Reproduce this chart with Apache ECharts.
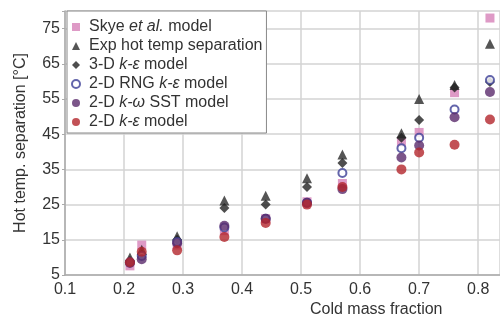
<!DOCTYPE html>
<html>
<head>
<meta charset="utf-8">
<script src="https://cdn.jsdelivr.net/npm/echarts@6/dist/echarts.min.js"></script>
<style>
  html, body { margin: 0; padding: 0; background: #fff; }
  #chart { width: 500px; height: 323px; }
</style>
</head>
<body>
<div id="chart"></div>
<script>
// cold mass fraction
const coldFraction = [0.21, 0.23, 0.29, 0.37, 0.44, 0.51, 0.57, 0.67, 0.70, 0.76, 0.82];

// hot temperature separation [°C]
const skyeModel = [7.6, 13.5, 13.5, 17.6, 21.0, 25.8, 31.0, 42.8, 45.5, 56.8, 78.0];
const expHotSep = [10.0, 12.2, 16.0, 26.2, 27.5, 32.5, 39.2, 45.3, 55.0, 59.0, 70.7];
const model3dKe = [9.0, 10.8, 15.0, 24.0, 25.0, 30.0, 36.8, 44.0, 49.0, 58.3, 59.8];
const model2dRng = [8.6, 10.4, 14.4, 18.5, 21.0, 25.5, 34.0, 41.0, 44.0, 52.0, 60.4];
const model2dSst = [8.4, 9.5, 14.0, 19.0, 21.0, 25.5, 29.4, 38.4, 41.8, 49.8, 57.0];
const model2dKe = [8.6, 11.6, 12.0, 15.8, 19.8, 25.0, 30.0, 35.0, 39.8, 42.0, 49.2];

const yTicks = [5, 15, 25, 35, 45, 55, 65, 75];

const font = 'Liberation Sans, Arial, sans-serif';

function pairs(ys) {
  return coldFraction.map((x, i) => [x, ys[i]]);
}

const chart = echarts.init(document.getElementById('chart'));

const legendLabels = {
  'Skye': '{n|Skye }{i|et al.}{n| model}',
  'Exp': '{n|Exp hot temp separation}',
  '3D': '{n|3-D }{i|k-ε}{n| model}',
  'RNG': '{n|2-D RNG }{i|k-ε}{n| model}',
  'SST': '{n|2-D }{i|k-ω}{n| SST model}',
  'KE': '{n|2-D }{i|k-ε}{n| model}'
};

const option = {
  animation: false,
  grid: { left: 65, right: 0, top: 11, bottom: 48 },
  legend: {
    left: 67,
    top: 11,
    orient: 'vertical',
    itemGap: 3,
    itemWidth: 8,
    itemHeight: 8,
    padding: [8, 4, 3, 4],
    backgroundColor: '#fff',
    borderColor: '#888',
    borderWidth: 1,
    borderRadius: 0,
    formatter: name => legendLabels[name],
    textStyle: {
      color: '#333',
      fontFamily: font,
      fontSize: 16,
      padding: [0, 0, 0, 4],
      rich: {
        n: { fontFamily: font, fontSize: 16, color: '#333' },
        i: { fontFamily: font, fontSize: 16, color: '#333', fontStyle: 'italic' }
      }
    },
    data: ['Skye', 'Exp', '3D', 'RNG', 'SST', 'KE']
  },
  xAxis: {
    type: 'value',
    min: 0.1,
    max: 0.837,
    interval: 0.1,
    axisLine: { lineStyle: { color: '#aaa', width: 1.5 } },
    axisTick: { show: false },
    splitLine: { lineStyle: { color: '#d3d3d3', width: 1.5 } },
    axisLabel: {
      color: '#333',
      fontFamily: font,
      fontSize: 16,
      margin: 7,
      showMaxLabel: false,
      formatter: v => Math.abs(v * 10 - Math.round(v * 10)) < 1e-6 ? v.toFixed(1) : ''
    }
  },
  yAxis: {
    type: 'value',
    min: 5,
    max: 80,
    interval: 10,
    axisLine: { show: true, lineStyle: { color: '#aaa', width: 1.5 } },
    axisTick: { show: true, length: 3, lineStyle: { color: '#aaa' } },
    splitLine: { lineStyle: { color: '#d3d3d3', width: 1.5 } },
    name: 'Hot temp. separation [°C]',
    nameLocation: 'middle',
    nameGap: 36,
    nameTextStyle: { color: '#333', fontFamily: font, fontSize: 16 },
    axisLabel: {
      color: '#333',
      fontFamily: font,
      fontSize: 16,
      margin: 5,
      formatter: v => yTicks.indexOf(v) >= 0 ? String(v) : ''
    }
  },
  graphic: [{
    type: 'text',
    left: 310,
    top: 302,
    style: { text: 'Cold mass fraction', fill: '#333', font: '16px ' + font }
  }],
  series: [
    {
      name: 'Skye', type: 'scatter', symbol: 'rect', symbolSize: 9,
      itemStyle: { color: '#d681b8' }, data: pairs(skyeModel)
    },
    {
      name: 'Exp', type: 'scatter', symbol: 'triangle', symbolSize: 10,
      itemStyle: { color: '#2b2b2b' }, data: pairs(expHotSep)
    },
    {
      name: '3D', type: 'scatter', symbol: 'diamond', symbolSize: 10,
      itemStyle: { color: '#222' }, data: pairs(model3dKe)
    },
    {
      name: 'RNG', type: 'scatter', symbol: 'circle', symbolSize: 8,
      itemStyle: { color: '#fff', borderColor: '#3c3f96', borderWidth: 2 },
      data: pairs(model2dRng)
    },
    {
      name: 'SST', type: 'scatter', symbol: 'circle', symbolSize: 10,
      itemStyle: { color: '#5a2a6c' }, data: pairs(model2dSst)
    },
    {
      name: 'KE', type: 'scatter', symbol: 'circle', symbolSize: 10,
      itemStyle: { color: '#b3262c' }, data: pairs(model2dKe)
    }
  ]
};

chart.setOption(option);
</script>
</body>
</html>
